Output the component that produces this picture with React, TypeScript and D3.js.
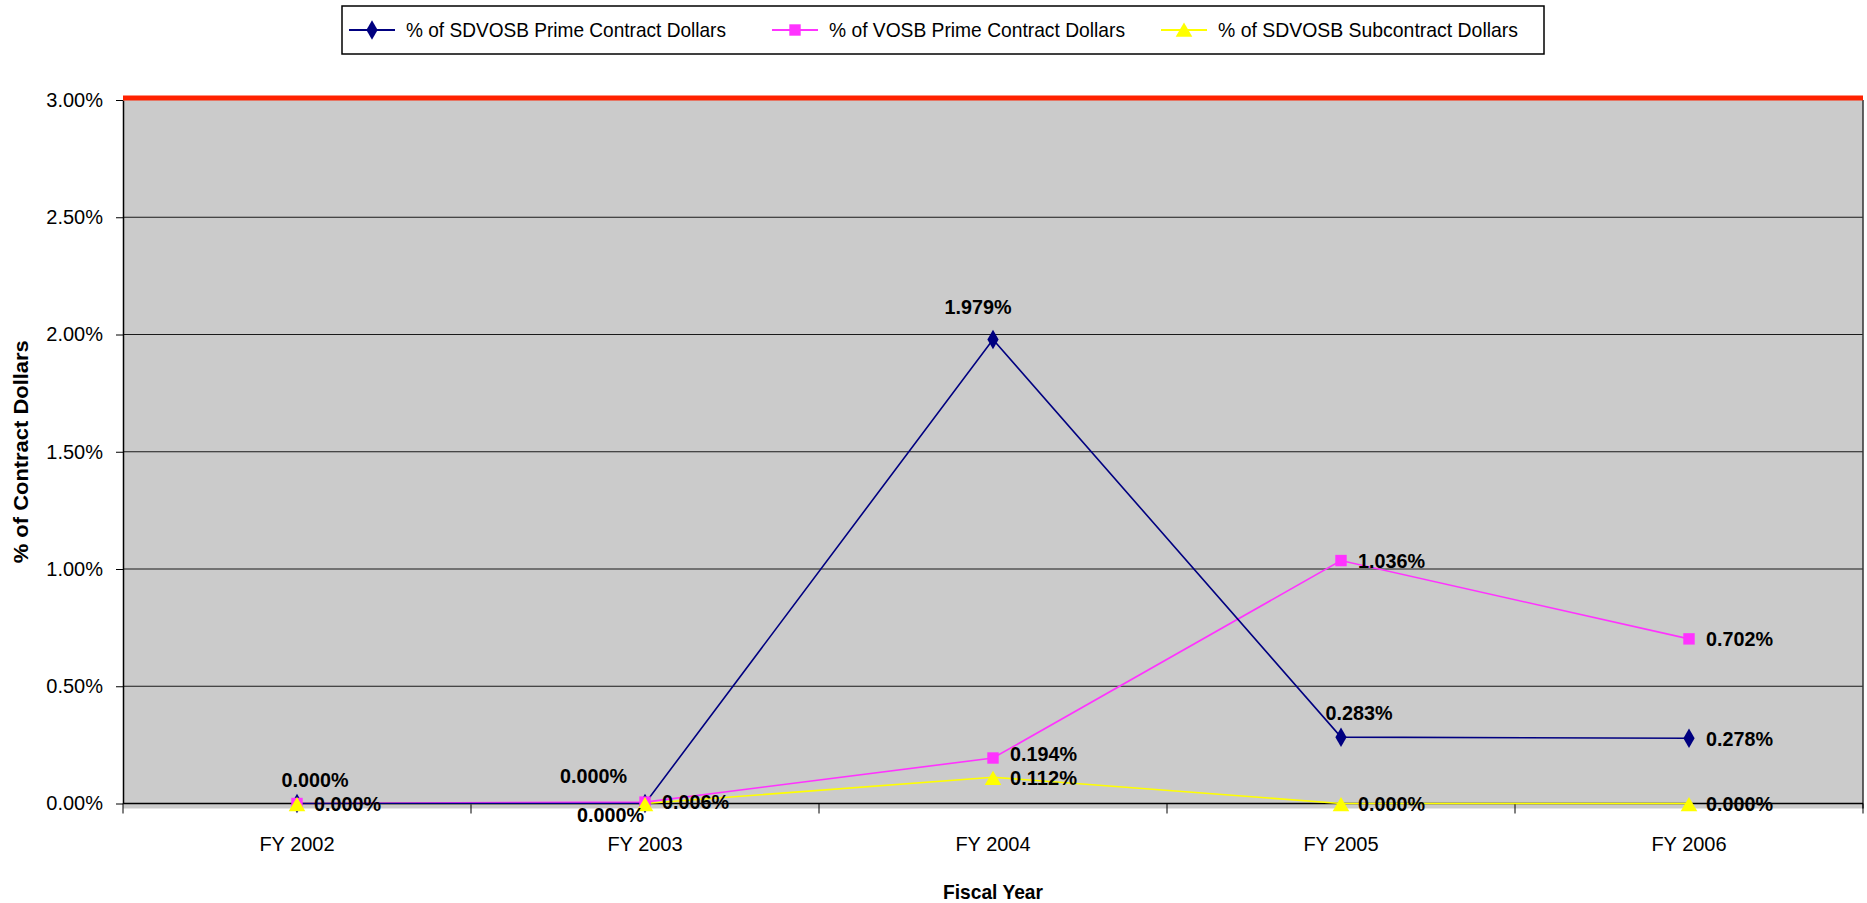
import * as d3 from "d3";
import { useEffect, useRef } from "react";

const years = ["FY 2002", "FY 2003", "FY 2004", "FY 2005", "FY 2006"];
const sdvosbPrime = [0.0, 0.0, 1.979, 0.283, 0.278];
const vosbPrime = [0.0, 0.006, 0.194, 1.036, 0.702];
const sdvosbSub = [0.0, 0.0, 0.112, 0.0, 0.0];
const yTicks = [0, 0.5, 1, 1.5, 2, 2.5, 3];
const goal = 3.0;

// where each data label sits next to its point
const sdvosbPrimeLabels = ["aboveRight", "aboveLeft", "above", "aboveRight", "right"];
const vosbPrimeLabels = ["none", "right", "rightUp", "right", "right"];
const sdvosbSubLabels = ["right", "belowLeft", "right", "right", "right"];

const W = 1867;
const H = 903;
const M = { left: 123, right: 4, top: 100, bottom: 99.5 };
const FONT = "Arial, 'Liberation Sans', Helvetica, sans-serif";

type Series = {
  name: string;
  values: number[];
  labels: string[];
  color: string;
  marker: "diamond" | "square" | "triangle";
  legendWidth: number;
};

const series: Series[] = [
  { name: "% of SDVOSB Prime Contract Dollars", values: sdvosbPrime, labels: sdvosbPrimeLabels, color: "#000080", marker: "diamond", legendWidth: 320 },
  { name: "% of VOSB Prime Contract Dollars", values: vosbPrime, labels: vosbPrimeLabels, color: "#FF33FF", marker: "square", legendWidth: 296 },
  { name: "% of SDVOSB Subcontract Dollars", values: sdvosbSub, labels: sdvosbSubLabels, color: "#FFFF00", marker: "triangle", legendWidth: 300 },
];

function markerPath(kind: string) {
  if (kind === "diamond") return d3.symbol(d3.symbolDiamond, 110)();
  if (kind === "square") return d3.symbol(d3.symbolSquare, 130)();
  return d3.symbol(d3.symbolTriangle, 120)();
}

export default function App() {
  const ref = useRef<SVGSVGElement>(null);

  useEffect(() => {
    if (!ref.current) return;
    const svg = d3.select(ref.current);
    svg.selectAll("*").remove();

    const x = d3.scaleBand().domain(years).range([M.left, W - M.right]).padding(0);
    const y = d3.scaleLinear().domain([0, 3]).range([H - M.bottom, M.top]);
    const cx = (i: number) => (x(years[i]) as number) + x.bandwidth() / 2;

    // plot area
    svg.append("rect")
      .attr("x", M.left).attr("y", y(3))
      .attr("width", W - M.right - M.left).attr("height", y(0) - y(3) + 5)
      .attr("fill", "#CBCBCB");

    // gridlines
    svg.append("g")
      .selectAll("line")
      .data(yTicks.filter(t => t > 0 && t < 3))
      .enter().append("line")
      .attr("x1", M.left).attr("x2", W - M.right)
      .attr("y1", d => y(d)).attr("y2", d => y(d))
      .attr("stroke", "#1a1a1a").attr("stroke-width", 1.2);

    // right border
    svg.append("line")
      .attr("x1", W - M.right).attr("x2", W - M.right)
      .attr("y1", y(3)).attr("y2", y(0) + 5)
      .attr("stroke", "#333").attr("stroke-width", 1.5);

    // y axis
    const yAxis = svg.append("g")
      .attr("transform", `translate(${M.left},0)`)
      .call(d3.axisLeft(y).tickValues(yTicks).tickFormat(d => `${(+d).toFixed(2)}%`).tickSize(7).tickSizeOuter(0));
    yAxis.select(".domain").attr("stroke", "#000").attr("stroke-width", 1.5);
    yAxis.selectAll(".tick line").attr("stroke", "#000");
    yAxis.selectAll(".tick text")
      .attr("font-family", FONT).attr("font-size", 20).attr("fill", "#000")
      .attr("x", -20);

    // x axis
    svg.append("line")
      .attr("x1", M.left).attr("x2", W - M.right)
      .attr("y1", y(0)).attr("y2", y(0))
      .attr("stroke", "#000").attr("stroke-width", 1.5);
    svg.append("g")
      .selectAll("line")
      .data(d3.range(years.length + 1))
      .enter().append("line")
      .attr("x1", i => M.left + i * x.bandwidth())
      .attr("x2", i => M.left + i * x.bandwidth())
      .attr("y1", y(0)).attr("y2", y(0) + 10)
      .attr("stroke", "#000").attr("stroke-width", 1);
    svg.append("g")
      .selectAll("text")
      .data(years)
      .enter().append("text")
      .attr("x", (d, i) => cx(i))
      .attr("y", y(0) + 40)
      .attr("dy", "0.35em")
      .attr("text-anchor", "middle")
      .attr("font-family", FONT).attr("font-size", 20)
      .text(d => d);

    // goal line
    svg.append("line")
      .attr("x1", M.left).attr("x2", W - M.right)
      .attr("y1", y(goal) - 2).attr("y2", y(goal) - 2)
      .attr("stroke", "#FF2200").attr("stroke-width", 5);

    // axis titles
    svg.append("text")
      .attr("x", (M.left + W - M.right) / 2).attr("y", 892)
      .attr("dy", "0.35em")
      .attr("text-anchor", "middle")
      .attr("font-family", FONT).attr("font-size", 21).attr("font-weight", "bold")
      .attr("textLength", 100).attr("lengthAdjust", "spacingAndGlyphs")
      .text("Fiscal Year");
    svg.append("text")
      .attr("transform", `translate(21,${y(1.5)}) rotate(-90)`)
      .attr("dy", "0.35em")
      .attr("text-anchor", "middle")
      .attr("font-family", FONT).attr("font-size", 21).attr("font-weight", "bold")
      .attr("textLength", 223).attr("lengthAdjust", "spacingAndGlyphs")
      .text("% of Contract Dollars");

    // series lines
    const line = d3.line<number>().x((d, i) => cx(i)).y(d => y(d));
    series.slice().reverse().forEach(s => {
      svg.append("path")
        .attr("d", line(s.values))
        .attr("fill", "none")
        .attr("stroke", s.color)
        .attr("stroke-width", 1.6);
    });

    // markers
    series.forEach(s => {
      svg.append("g")
        .selectAll("path")
        .data(s.values)
        .enter().append("path")
        .attr("d", markerPath(s.marker))
        .attr("transform", (d, i) => `translate(${cx(i)},${y(d) + (s.marker === "triangle" ? 3 : 0)})`)
        .attr("fill", s.color);
    });

    // data labels
    const place: Record<string, { dx: number; dy: number; anchor: string }> = {
      right: { dx: 17, dy: 0, anchor: "start" },
      rightUp: { dx: 17, dy: -4, anchor: "start" },
      above: { dx: -15, dy: -33, anchor: "middle" },
      aboveRight: { dx: 18, dy: -24, anchor: "middle" },
      aboveLeft: { dx: -18, dy: -28, anchor: "end" },
      belowLeft: { dx: -1, dy: 11, anchor: "end" },
    };
    series.forEach(s => {
      svg.append("g")
        .selectAll("text")
        .data(s.values.map((v, i) => ({ v, i, pos: s.labels[i] })).filter(d => d.pos !== "none"))
        .enter().append("text")
        .attr("x", d => cx(d.i) + place[d.pos].dx)
        .attr("y", d => y(d.v) + place[d.pos].dy)
        .attr("dy", "0.35em")
        .attr("text-anchor", d => place[d.pos].anchor)
        .attr("font-family", FONT).attr("font-size", 21).attr("font-weight", "bold")
        .attr("textLength", 67).attr("lengthAdjust", "spacingAndGlyphs")
        .text(d => `${d.v.toFixed(3)}%`);
    });

    // legend
    const legend = svg.append("g");
    legend.append("rect")
      .attr("x", 342).attr("y", 6).attr("width", 1202).attr("height", 48)
      .attr("fill", "#fff").attr("stroke", "#000").attr("stroke-width", 1.5);
    const legendX = [349, 772, 1161];
    series.forEach((s, k) => {
      const g = legend.append("g").attr("transform", `translate(${legendX[k]},30)`);
      g.append("line").attr("x1", 0).attr("x2", 46).attr("stroke", s.color).attr("stroke-width", 2);
      g.append("path")
        .attr("d", markerPath(s.marker))
        .attr("transform", `translate(23,${s.marker === "triangle" ? 2 : 0})`)
        .attr("fill", s.color);
      g.append("text")
        .attr("x", 57).attr("dy", "0.35em")
        .attr("font-family", FONT).attr("font-size", 21)
        .attr("textLength", s.legendWidth).attr("lengthAdjust", "spacingAndGlyphs")
        .text(s.name);
    });
  }, []);

  return (
    <svg ref={ref} width={W} height={H}
      style={{ position: "absolute", left: 0, top: 0, background: "#fff" }} />
  );
}
